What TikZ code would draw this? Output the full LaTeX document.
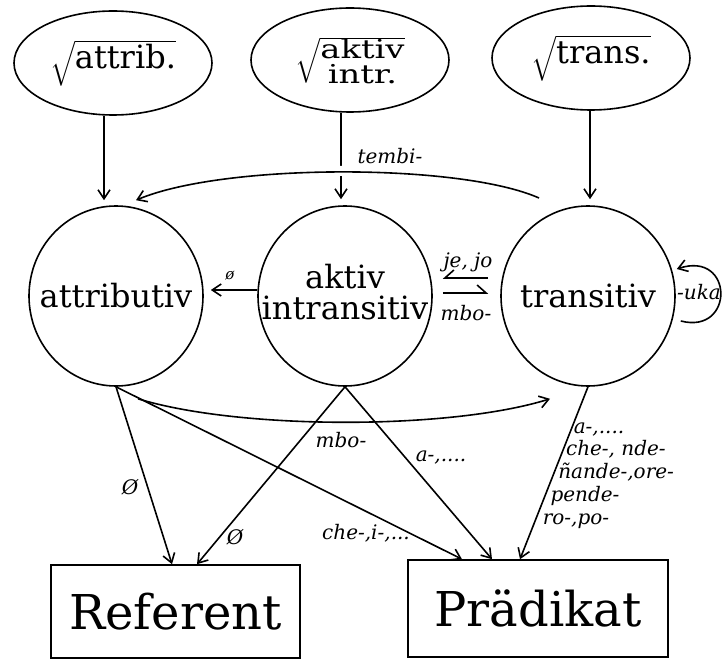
\documentclass[tikz,border=0pt]{standalone}
\usepackage{fix-cm}
\usepackage{exscale}
\usepackage{graphicx}
\usepackage{fontspec}
\setmainfont{DejaVu Serif}
\usetikzlibrary{shapes.geometric,arrows.meta}
\newcommand{\punkte}{....}
\newcommand{\wurzel}[1]{\makebox[0pt]{$\sqrt{\vphantom{\rule[-15pt]{0pt}{38pt}}\smash{\mbox{#1}}}$}}

\begin{document}
\begin{tikzpicture}[x=1pt,y=-1pt,line width=1.6pt,
		root/.style={ellipse,draw,minimum width=198pt,minimum height=104pt,inner sep=0pt,font=\fontsize{32}{34}\selectfont},
		klasse/.style={ellipse,draw,minimum width=174pt,minimum height=180pt,inner sep=0pt,font=\fontsize{32}{25}\selectfont},
		ziel/.style={rectangle,draw,inner sep=0pt,font=\fontsize{48}{48}\selectfont},
		affix/.style={inner sep=0pt,font=\fontsize{20}{20}\selectfont\itshape},
		arr/.style={-{Straight Barb[length=9pt,width=12pt]}},
		harpup/.style={-{Straight Barb[harpoon,length=9pt,width=16pt]}},
		harpdown/.style={-{Straight Barb[harpoon,swap,length=9pt,width=16pt]}}]
				\useasboundingbox (0,0) rectangle (723,660);
				
				% Wurzeln
				\node[root] (rattr) at (113,63) {\wurzel{attrib.}};
				\node[root] (raint) at (350,60) {\wurzel{\raisebox{-5pt}{\scalebox{1.3}[1]{\fontsize{26}{20}\selectfont\begin{tabular}{@{}c@{}}aktiv\\intr.\end{tabular}}}}};
				\node[root] (rtrans) at (591,58) {\wurzel{trans.}};
				
				% Klassen
				\node[klasse] (attr) at (116,296) {\makebox[0pt]{attributiv}};
				\node[klasse] (aint) at (345,296) {\makebox[0pt]{\begin{tabular}{@{}c@{}}aktiv\\intransitiv\end{tabular}}};
				\node[klasse] (trans) at (588,296) {\makebox[0pt]{transitiv}};
				
				% Funktionen
				\node[ziel,minimum width=249pt,minimum height=93pt] (ref) at (175.5,611.5) {Referent};
				\node[ziel,minimum width=260pt,minimum height=97pt] (pred) at (538,608.5) {Prädikat};
				
				% Wurzel -> Klasse
				\draw[arr] ([xshift=-9pt]rattr.south) -- ([xshift=-12pt,yshift=5pt]attr.north);
				\draw[arr] ([xshift=-9pt]raint.south) -- ([xshift=-4pt,yshift=6pt]aint.north);
				\draw[arr] ([xshift=-1pt]rtrans.south) -- ([xshift=2pt,yshift=6pt]trans.north);
				
				% tembi-
				\coordinate (tembiS) at (539,198);
				\draw[arr,preaction={draw,white,line width=10pt,-,shorten <=8pt,shorten >=14pt}] (tembiS) .. controls (460,163) and (224,163) .. ([xshift=20pt,yshift=5pt]attr.north);
				\node[affix] (lTembi) at (390,156) {tembi-};
				
				% zwischen den Klassen
				\draw[arr] ([yshift=6pt]aint.west) -- ([xshift=7pt,yshift=6pt]attr.east);
				\node[affix,font=\fontsize{15}{15}\selectfont\itshape] (lNull) at (230,276) {ø};
				\draw[harpdown] ([xshift=-12pt,yshift=18pt]trans.west) -- ([xshift=10pt,yshift=18pt]aint.east);
				\draw[harpup] ([xshift=10pt,yshift=3pt]aint.east) -- ([xshift=-12pt,yshift=3pt]trans.west);
				\node[affix] (lJe) at (468,262) {je, jo};
				\node[affix] (lMboA) at (466,313) {mbo-};
				
				% -uka
				\draw[arr] ([xshift=5pt,yshift=-25pt]trans.east) .. controls (735,335) and (734,250) .. ([xshift=1pt,yshift=27pt]trans.east);
				\node[affix] (lUka) at (699,292) {-uka};
				
				% mbo- (attributiv -> transitiv)
				\draw[arr] ([xshift=22pt,yshift=-12pt]attr.south) .. controls (240,430) and (450,430) .. ([xshift=-38pt,yshift=-12pt]trans.south);
				\node[affix] (lMboB) at (341,440) {mbo-};
				
				% Klasse -> Funktion
				\draw[arr] (attr.south) -- ([xshift=-3.5pt]ref.north);
				\draw[arr] (attr.south) -- ([xshift=-76pt]pred.north);
				\draw[arr] (aint.south) -- ([xshift=21.5pt]ref.north);
				\draw[arr] (aint.south) -- ([xshift=-46pt]pred.north);
				\draw[arr] (trans.south) -- ([xshift=-18pt]pred.north);
				\node[affix] (lNullA) at (130,487) {Ø};
				\node[affix] (lNullB) at (235,537) {Ø};
				\node[affix] (lChe) at (366,533) {che-,i-,...};
				\node[affix] (lA) at (441,458) {a-,....};
				
				% Praefixe am Praedikat
				\foreach \t [count=\i from 0] in {{a-,\punkte},{che-, nde-},{ñande-,ore-},{pende-},{ro-,po-}}{
					\node[affix,anchor=base west] (lPr\i) at (573-7.75*\i,433+22.75*\i) {\t};
				}
			\end{tikzpicture}
\end{document}
